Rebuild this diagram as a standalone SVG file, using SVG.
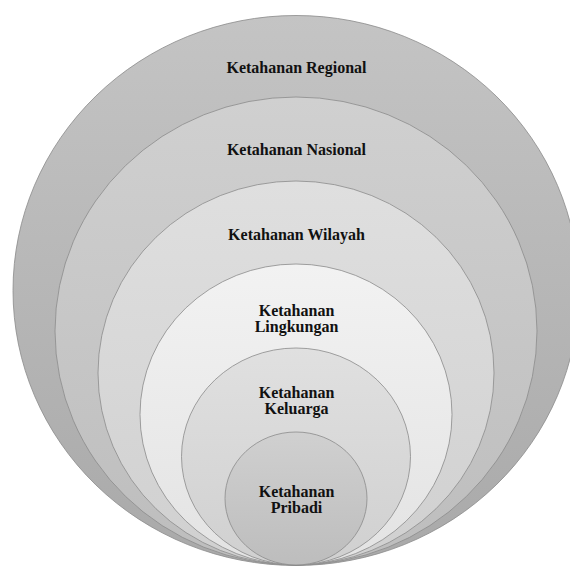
<svg xmlns="http://www.w3.org/2000/svg" width="570" height="567" viewBox="0 0 570 567">
  <defs>
    <linearGradient id="g1" x1="0" y1="0" x2="0" y2="1">
      <stop offset="0" stop-color="#c4c4c4"/>
      <stop offset="1" stop-color="#a9a9a9"/>
    </linearGradient>
    <linearGradient id="g2" x1="0" y1="0" x2="0" y2="1">
      <stop offset="0" stop-color="#d0d0d0"/>
      <stop offset="1" stop-color="#bdbdbd"/>
    </linearGradient>
    <linearGradient id="g3" x1="0" y1="0" x2="0" y2="1">
      <stop offset="0" stop-color="#dfdfdf"/>
      <stop offset="1" stop-color="#d0d0d0"/>
    </linearGradient>
    <linearGradient id="g4" x1="0" y1="0" x2="0" y2="1">
      <stop offset="0" stop-color="#f2f2f2"/>
      <stop offset="1" stop-color="#e3e3e3"/>
    </linearGradient>
    <linearGradient id="g5" x1="0" y1="0" x2="0" y2="1">
      <stop offset="0" stop-color="#e0e0e0"/>
      <stop offset="1" stop-color="#d0d0d0"/>
    </linearGradient>
    <linearGradient id="g6" x1="0" y1="0" x2="0" y2="1">
      <stop offset="0" stop-color="#d0d0d0"/>
      <stop offset="1" stop-color="#bdbdbd"/>
    </linearGradient>
  </defs>
  <style>
    .ring { stroke: #8a8a8a; stroke-width: 0.8; }
    .lbl { font-family: "Liberation Serif", "Times New Roman", serif; font-weight: bold; font-size: 16px; fill: #111; text-anchor: middle; }
  </style>
  <g id="regional">
    <ellipse class="ring" cx="296" cy="290.5" rx="283" ry="275" fill="url(#g1)"/>
    <text class="lbl" x="296.5" y="73">Ketahanan Regional</text>
  </g>
  <g id="nasional">
    <ellipse class="ring" cx="296" cy="331" rx="241" ry="234" fill="url(#g2)"/>
    <text class="lbl" x="296.5" y="155">Ketahanan Nasional</text>
  </g>
  <g id="wilayah">
    <ellipse class="ring" cx="296" cy="373" rx="198" ry="192" fill="url(#g3)"/>
    <text class="lbl" x="296.5" y="239.5">Ketahanan Wilayah</text>
  </g>
  <g id="lingkungan">
    <ellipse class="ring" cx="296" cy="414.5" rx="156" ry="150.5" fill="url(#g4)"/>
    <text class="lbl" x="296.5" y="315.5">Ketahanan</text>
    <text class="lbl" x="296.5" y="331.5">Lingkungan</text>
  </g>
  <g id="keluarga">
    <ellipse class="ring" cx="296" cy="456.5" rx="114.5" ry="108.5" fill="url(#g5)"/>
    <text class="lbl" x="296.5" y="398">Ketahanan</text>
    <text class="lbl" x="296.5" y="414">Keluarga</text>
  </g>
  <g id="pribadi">
    <ellipse class="ring" cx="296" cy="498.5" rx="71" ry="66.5" fill="url(#g6)"/>
    <text class="lbl" x="296.5" y="497">Ketahanan</text>
    <text class="lbl" x="296.5" y="513">Pribadi</text>
  </g>
  <g id="connectors"/>
</svg>
